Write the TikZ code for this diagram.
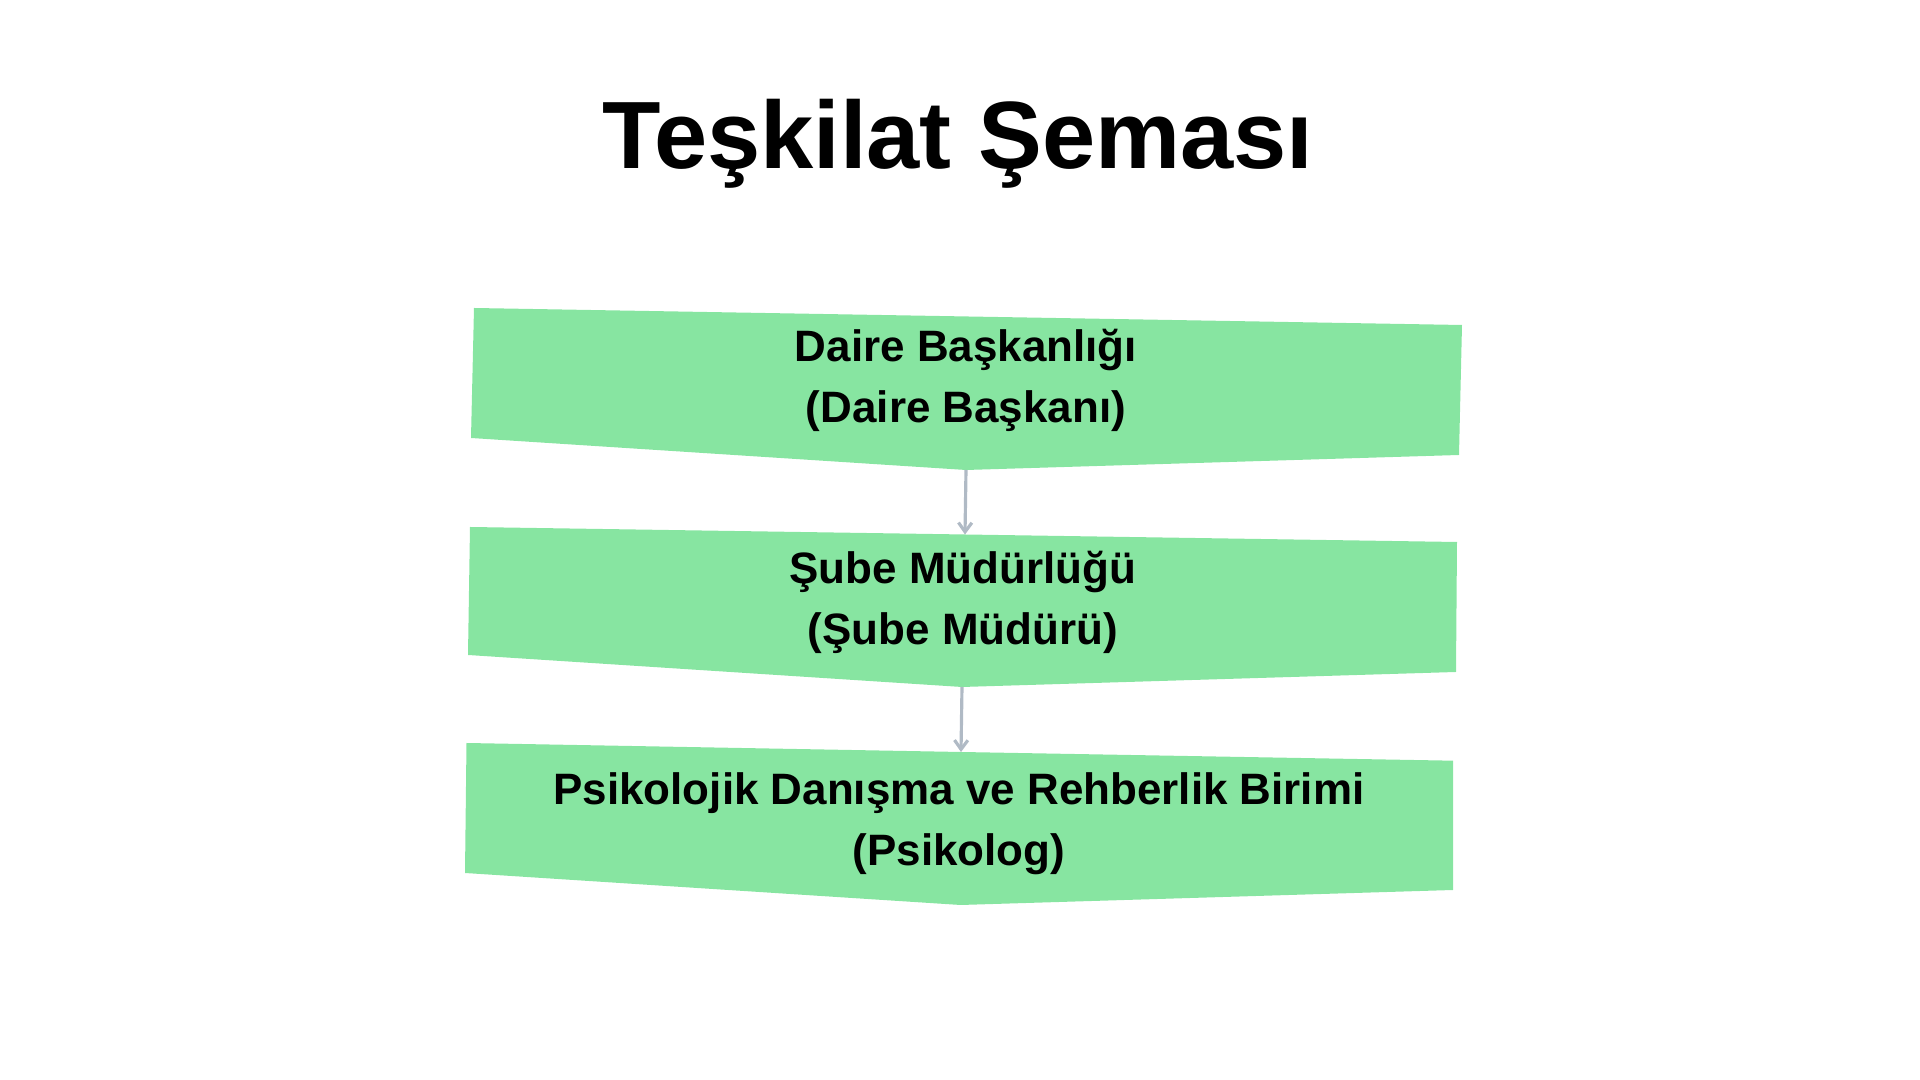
\documentclass[tikz,border=0pt]{standalone}
\usepackage{fontspec}
\setmainfont{Liberation Sans}
\usetikzlibrary{arrows.meta}
\definecolor{kutuyesil}{RGB}{135,229,161}
\definecolor{okgri}{RGB}{176,186,197}
\begin{document}
\begin{tikzpicture}[x=0.01cm,y=-0.01cm,
    kutu/.style={fill=kutuyesil},
    yazi/.style={align=center,anchor=base,inner sep=0pt,
      font=\fontsize{12.5}{17.36}\selectfont\bfseries},
    ok/.style={draw=okgri,line width=0.9pt,
      -{Straight Barb[length=2.6pt,width=3.8pt]}}]
  \useasboundingbox (0,0) rectangle (1920,1080);
  \node[anchor=base,inner sep=0pt,font=\fontsize{27.2}{32}\selectfont\bfseries]
    (baslik) at (958,169) {Teşkilat Şeması};
  % kutular
  \fill[kutu] (474,308) -- (1462,325) -- (1459,455)
    -- (966,470) coordinate (b1alt) -- (471,438) -- cycle;
  \fill[kutu] (470,527) -- (965,534.5) coordinate (b2ust) -- (1457,542)
    -- (1456,672) -- (962,687) coordinate (b2alt) -- (468,655) -- cycle;
  \fill[kutu] (466.5,743) -- (961,752) coordinate (b3ust) -- (1453,760.7)
    -- (1453,890) -- (960.6,905) -- (465,873) -- cycle;
  \draw
    (966,422.7) node[yazi] (daire) {Daire Başkanlığı\\(Daire Başkanı)}
    (963,644.3) node[yazi] (sube) {Şube Müdürlüğü\\(Şube Müdürü)}
    (959,865.3) node[yazi] (pdr) {Psikolojik Danışma ve Rehberlik Birimi\\(Psikolog)};
  \begin{scope}[ok]
    \draw (b1alt) to (b2ust);
    \draw (b2alt) to (b3ust);
  \end{scope}
\end{tikzpicture}
\end{document}
